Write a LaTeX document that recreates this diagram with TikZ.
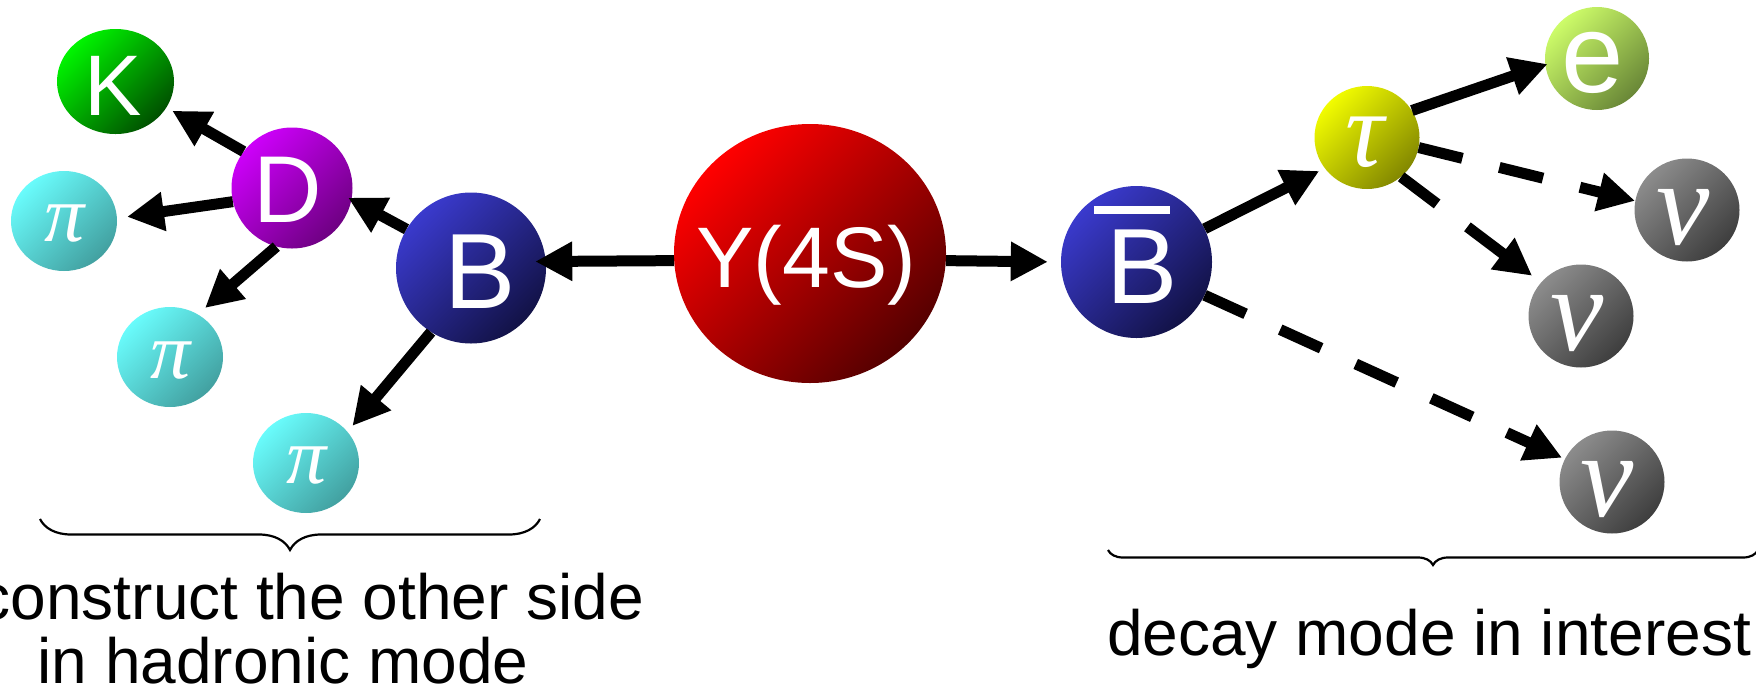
\documentclass[tikz,border=0pt]{standalone}
\usepackage{fontspec}
\setmainfont{Liberation Sans}
\newfontfamily\grk{Liberation Serif}
\usetikzlibrary{arrows.meta,shapes.geometric,decorations.pathreplacing}
\definecolor{kA}{RGB}{0,245,0}\definecolor{kB}{RGB}{0,80,0}
\definecolor{dA}{RGB}{205,0,250}\definecolor{dB}{RGB}{110,0,130}
\definecolor{pA}{RGB}{105,252,252}\definecolor{pB}{RGB}{66,160,160}
\definecolor{bA}{RGB}{58,58,205}\definecolor{bB}{RGB}{18,18,70}
\definecolor{yA}{RGB}{255,0,0}\definecolor{yB}{RGB}{85,0,0}
\definecolor{tA}{RGB}{242,252,0}\definecolor{tB}{RGB}{130,135,0}
\definecolor{eA}{RGB}{205,252,105}\definecolor{eB}{RGB}{105,135,55}
\definecolor{nA}{RGB}{140,140,140}\definecolor{nB}{RGB}{62,62,62}
\begin{document}
\begin{tikzpicture}[x=1pt,y=-1pt,
  ball/.style 2 args={ellipse, draw=none, inner sep=0pt, top color=#1, bottom color=#2, shading angle=45},
  lbl/.style={text=white, inner sep=0pt},
  arr/.style={line width=11pt, -{Triangle[length=37pt,width=37pt]}},
  dsh/.style={arr, dash pattern=on 45pt off 38pt},
  brc/.style={line width=2.2pt, decorate, decoration={brace, mirror, amplitude=#1}},
  capt/.style={anchor=base, inner sep=0pt, font=\fontsize{64}{64}\selectfont}]
\useasboundingbox (0,0) rectangle (1756,689);
% balls
\node[ball={kA}{kB}, minimum width=117pt, minimum height=105pt] (K) at (115.5,81.5) {};
\node[ball={dA}{dB}, minimum width=121pt, minimum height=121pt] (D) at (292,188) {};
\node[ball={pA}{pB}, minimum width=106pt, minimum height=100pt] (P1) at (64,221) {};
\node[ball={pA}{pB}, minimum width=106pt, minimum height=100pt] (P2) at (170,357) {};
\node[ball={pA}{pB}, minimum width=106pt, minimum height=100pt] (P3) at (306,463) {};
\node[ball={bA}{bB}, minimum width=150pt, minimum height=151pt] (B) at (471,268) {};
\node[ball={yA}{yB}, minimum width=272pt, minimum height=259pt] (Y) at (810,253.5) {};
\node[ball={bA}{bB}, minimum width=151pt, minimum height=152pt] (Bb) at (1136.5,262) {};
\node[ball={tA}{tB}, minimum width=105pt, minimum height=103pt] (T) at (1367,137.5) {};
\node[ball={eA}{eB}, minimum width=104pt, minimum height=103pt] (E) at (1597,58.5) {};
\node[ball={nA}{nB}, minimum width=105pt, minimum height=103pt] (N1) at (1687,210) {};
\node[ball={nA}{nB}, minimum width=105pt, minimum height=103pt] (N2) at (1581,316) {};
\node[ball={nA}{nB}, minimum width=105pt, minimum height=103pt] (N3) at (1612,482) {};
% labels
\node[lbl, anchor=base, font=\fontsize{86}{86}\selectfont] (Kt) at (113,115) {K};
\node[lbl, anchor=base, font=\fontsize{95}{95}\selectfont] (Dt) at (288,222) {D};
\node[lbl, anchor=base, font=\fontsize{107}{107}\selectfont] (Bt) at (480,308) {B};
\node[lbl, anchor=base, font=\fontsize{86}{86}\selectfont] (Yt) at (806.5,287) {Y(4S)};
\node[lbl, anchor=base, font=\fontsize{107}{107}\selectfont] (Bbt) at (1142.5,303) {B};
\fill[white] (1094,206) rectangle (1170,214);
\node[lbl, anchor=base, font=\fontsize{112}{112}\selectfont] (Et) at (1592.5,92) {e};
\node[lbl, font=\grk\itshape\fontsize{108}{108}\selectfont] (Tt) at (1365,142.5) {τ};
\node[lbl, font=\grk\itshape\fontsize{80}{80}\selectfont] (P1t) at (65,223.5) {π};
\node[lbl, font=\grk\itshape\fontsize{80}{80}\selectfont] (P2t) at (171,361) {π};
\node[lbl, font=\grk\itshape\fontsize{80}{80}\selectfont] (P3t) at (307,466) {π};
\node[lbl, font=\grk\itshape\fontsize{120}{120}\selectfont] (N1t) at (1683,217.5) {ν};
\node[lbl, font=\grk\itshape\fontsize{120}{120}\selectfont] (N2t) at (1577.5,323.5) {ν};
\node[lbl, font=\grk\itshape\fontsize{120}{120}\selectfont] (N3t) at (1607.5,490) {ν};
% arrows
\draw[arr, shorten >=-10.7pt] (Y.183.5) -- (B.5.4);
\draw[arr, shorten >=13pt] (Y.-3.7) -- (Bb.180);
\draw[arr, shorten >=-4pt] (B.149.3) -- (D.-11.3);
\draw[arr, shorten >=6.5pt] (D.143.7) -- (K.-27.6);
\draw[arr, shorten >=10pt] (D.193.1) -- (P1.3.6);
\draw[arr, shorten >=9.5pt] (D.255.7) -- (P2.57.9);
\draw[arr, shorten >=7.5pt] (B.238) -- (P3.37.5);
\draw[arr, shorten >=6pt] (Bb.26.7) -- (T.216.3);
\draw[dsh, shorten >=3pt] (Bb.-26) -- (N3.154.4);
\draw[arr, shorten >=-2.5pt] (T.31.4) -- (E.187.6);
\draw[dsh] (T.-11.9) -- (N1.170.7);
\draw[dsh, shorten >=11pt] (T.-49.8) -- (N2.140.8);
% braces
\coordinate (L1) at (40,519); \coordinate (L2) at (540,519);
\coordinate (R1) at (1108,550); \coordinate (R2) at (1758,550);
\draw[brc=31pt] (L1) -- (L2);
\draw[brc=15pt] (R1) -- (R2);
% captions
\node[capt] (c1) at (283,619) {reconstruct the other side};
\node[capt] (c2) at (283,683) {in hadronic mode};
\node[capt] (c3) at (1429,655) {decay mode in interest};
\end{tikzpicture}
\end{document}
